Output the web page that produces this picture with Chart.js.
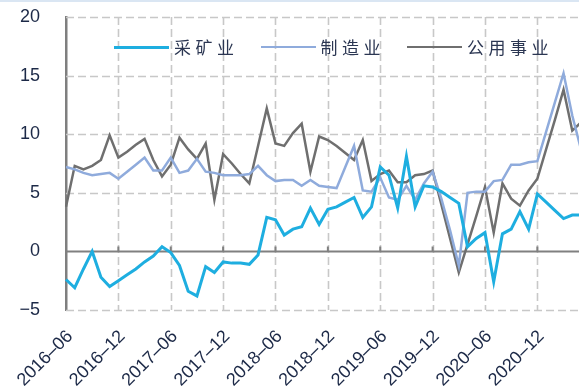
<!DOCTYPE html>
<html>
<head>
<meta charset="utf-8">
<script src="https://cdn.jsdelivr.net/npm/chart.js@4.4.1/dist/chart.umd.min.js"></script>
<style>
  html, body { margin: 0; padding: 0; background: #fff; overflow: hidden; }
  #wrap { position: relative; width: 581px; height: 391px; }
  #topline { position: absolute; left: 0; top: 0; width: 100%; height: 2px; background: #dae6f3; }
  #legend {
    position: absolute; left: 114px; top: 35px; display: flex; gap: 22px;
    font-family: "Noto Sans CJK SC", sans-serif; font-size: 17px; letter-spacing: 4.5px;
    color: #2b3652; line-height: 24px;
  }
  .item { display: flex; align-items: center; }
  .swatch { width: 55px; height: 3px; margin-right: 5px; }
</style>
</head>
<body>
<div id="wrap">
  <canvas id="chart" width="581" height="391"></canvas>
  <div id="topline"></div>
  <div id="legend"></div>
</div>
<script>
const months = [
  '2016-06', '2016-07', '2016-08', '2016-09', '2016-10', '2016-11', '2016-12',
  '2017-01', '2017-02', '2017-03', '2017-04', '2017-05', '2017-06', '2017-07', '2017-08', '2017-09', '2017-10', '2017-11', '2017-12',
  '2018-01', '2018-02', '2018-03', '2018-04', '2018-05', '2018-06', '2018-07', '2018-08', '2018-09', '2018-10', '2018-11', '2018-12',
  '2019-01', '2019-02', '2019-03', '2019-04', '2019-05', '2019-06', '2019-07', '2019-08', '2019-09', '2019-10', '2019-11', '2019-12',
  '2020-01', '2020-02', '2020-03', '2020-04', '2020-05', '2020-06', '2020-07', '2020-08', '2020-09', '2020-10', '2020-11', '2020-12',
  '2021-01', '2021-02', '2021-03', '2021-04', '2021-05'
];

// 工业增加值同比（%）
const mining = [
  -2.4, -3.1, -1.5, 0.0, -2.2, -3.0, -2.5,
  -2.0, -1.5, -0.9, -0.4, 0.4, -0.1, -1.2, -3.4, -3.8, -1.3, -1.8, -0.9,
  -1.0, -1.0, -1.1, -0.3, 2.9, 2.7, 1.4, 1.9, 2.1, 3.7, 2.3, 3.6,
  3.8, 4.2, 4.6, 2.9, 3.8, 7.2, 6.5, 3.7, 8.1, 3.8, 5.6, 5.5,
  5.1, 4.6, 4.1, 0.4, 1.1, 1.6, -2.6, 1.5, 1.9, 3.4, 1.9, 4.9,
  4.2, 3.5, 2.8, 3.1, 3.1
];
const manufacturing = [
  7.2, 7.0, 6.7, 6.5, 6.6, 6.7, 6.2,
  6.8, 7.4, 8.0, 6.9, 6.9, 8.0, 6.7, 6.9, 7.9, 6.8, 6.7, 6.5,
  6.5, 6.5, 6.6, 7.3, 6.5, 6.0, 6.1, 6.1, 5.6, 6.1, 5.6, 5.5,
  5.4, 7.2, 9.0, 5.2, 5.1, 6.3, 4.6, 4.4, 5.6, 4.4, 5.8, 6.8,
  4.5, 1.8, -1.2, 5.0, 5.1, 5.1, 6.0, 6.1, 7.4, 7.4, 7.6, 7.7,
  10.2, 12.7, 15.2, 11.6, 8.7
];
const utilities = [
  3.8, 7.3, 7.0, 7.3, 7.8, 9.9, 8.0,
  8.5, 9.1, 9.6, 7.8, 6.4, 7.4, 9.7, 8.7, 7.9, 9.2, 4.4, 8.3,
  7.5, 6.6, 5.8, 9.0, 12.2, 9.2, 9.0, 10.1, 10.9, 6.8, 9.8, 9.5,
  9.0, 8.4, 7.8, 9.5, 6.0, 6.6, 6.9, 5.9, 5.9, 6.5, 6.6, 6.9,
  4.0, 1.1, -1.8, 0.6, 3.0, 5.5, 1.6, 5.8, 4.5, 3.9, 5.2, 6.2,
  8.7, 11.2, 13.8, 10.3, 11.0
];

const seriesNames = ['采矿业', '制造业', '公用事业'];
const seriesColors = ['#1eaee0', '#8fabdc', '#6f6f6f'];
const seriesWidths = [3, 2.5, 2.5];
const yTicks = [-5, 0, 5, 10, 15, 20];

const tickColor = '#1c2947';
const gridColor = '#c8c8c8';
const tickFont = { family: '"Liberation Sans", Arial, sans-serif', size: 18 };

function isHalfYear(i) {
  const m = months[i];
  return m !== undefined && (m.endsWith('-06') || m.endsWith('-12'));
}

// dashes drawn segment by segment (8 on, 4 off)
function dashedLine(ctx, x1, y1, x2, y2) {
  const len = Math.hypot(x2 - x1, y2 - y1);
  const ux = (x2 - x1) / len, uy = (y2 - y1) / len;
  for (let d = 0; d < len; d += 12) {
    const e = Math.min(d + 8, len);
    ctx.moveTo(x1 + ux * d, y1 + uy * d);
    ctx.lineTo(x1 + ux * e, y1 + uy * e);
  }
}

// dashed grid, then a solid zero line with small ticks at each half-year
const gridAndZero = {
  id: 'gridAndZero',
  beforeDatasetsDraw(chart) {
    const { ctx, chartArea: a, scales: { x, y } } = chart;
    ctx.save();
    ctx.strokeStyle = gridColor;
    ctx.lineWidth = 1.6;
    ctx.lineCap = 'butt';
    ctx.beginPath();
    yTicks.forEach(v => {
      if (v === 0) return;
      const py = Math.round(y.getPixelForValue(v)) + 0.5;
      dashedLine(ctx, a.left, py, a.right, py);
    });
    months.forEach((m, i) => {
      if (i > 0 && isHalfYear(i)) {
        const px = Math.round(x.getPixelForValue(i)) + 0.5;
        dashedLine(ctx, px, a.top, px, a.bottom);
      }
    });
    ctx.stroke();

    const y0 = y.getPixelForValue(0);
    ctx.strokeStyle = '#808080';
    ctx.lineWidth = 2;
    ctx.beginPath();
    ctx.moveTo(a.left, y0);
    ctx.lineTo(a.right, y0);
    months.forEach((m, i) => {
      if (i > 0 && isHalfYear(i)) {
        const px = x.getPixelForValue(i);
        ctx.moveTo(px, y0);
        ctx.lineTo(px, y0 - 5);
      }
    });
    ctx.stroke();
    ctx.restore();
  }
};

const seriesData = [mining, manufacturing, utilities];

new Chart(document.getElementById('chart').getContext('2d'), {
  type: 'line',
  data: {
    labels: months,
    datasets: seriesNames.map((name, k) => ({
      label: name,
      data: seriesData[k],
      borderColor: seriesColors[k],
      backgroundColor: seriesColors[k],
      borderWidth: seriesWidths[k],
      pointRadius: 0,
      tension: 0,
      fill: false
    }))
  },
  options: {
    responsive: false,
    animation: false,
    devicePixelRatio: 1,
    layout: { padding: { top: 17, left: 0, right: 0, bottom: 0 } },
    plugins: { legend: { display: false }, tooltip: { enabled: false } },
    scales: {
      x: {
        type: 'category',
        offset: false,
        grid: { display: false },
        border: { display: false },
        ticks: {
          autoSkip: false,
          maxRotation: 45,
          minRotation: 45,
          padding: 8,
          labelOffset: 4,
          color: tickColor,
          font: tickFont,
          callback: (v, i) => isHalfYear(i) ? months[i].replace('-', '–') : ''
        },
        afterFit: s => { s.height = 81; s.paddingLeft = 0; s.paddingRight = 0; }
      },
      y: {
        min: -5,
        max: 20,
        afterBuildTicks: s => { s.ticks = yTicks.map(v => ({ value: v })); },
        grid: { display: false },
        border: { display: true, color: '#7f7f7f', width: 2.5 },
        ticks: {
          padding: 18,
          color: tickColor,
          font: tickFont,
          callback: v => v < 0 ? '−' + Math.abs(v) : String(v)
        },
        afterFit: s => { s.width = 66; s.paddingTop = 0; s.paddingBottom = 0; }
      }
    }
  },
  plugins: [gridAndZero]
});

// legend laid over the top of the plot
const legend = document.getElementById('legend');
seriesNames.forEach((name, k) => {
  const item = document.createElement('div');
  item.className = 'item';
  const sw = document.createElement('span');
  sw.className = 'swatch';
  sw.style.background = seriesColors[k];
  sw.style.height = seriesWidths[k] + 'px';
  const txt = document.createElement('span');
  txt.textContent = name;
  item.appendChild(sw);
  item.appendChild(txt);
  legend.appendChild(item);
});
</script>
</body>
</html>
